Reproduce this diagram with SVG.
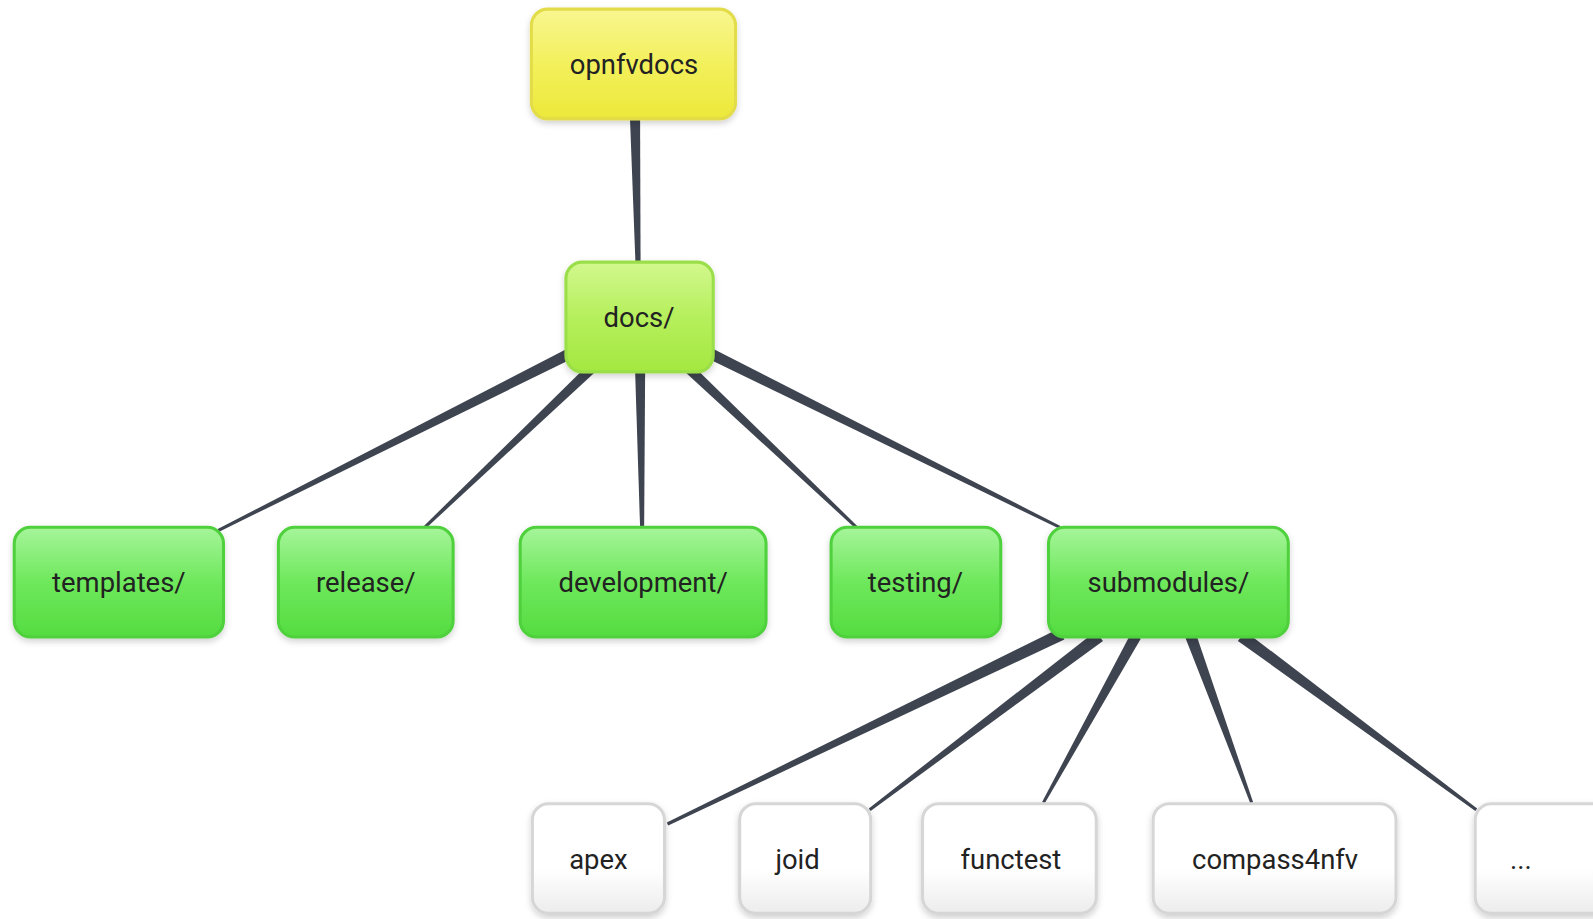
<svg xmlns="http://www.w3.org/2000/svg" width="1593" height="919" viewBox="0 0 1593 919">
<defs>
<linearGradient id="gY" x1="0" y1="0" x2="0" y2="1"><stop offset="0" stop-color="#f8f690"/><stop offset="0.5" stop-color="#f3f05c"/><stop offset="1" stop-color="#ece83a"/></linearGradient>
<linearGradient id="gD" x1="0" y1="0" x2="0" y2="1"><stop offset="0" stop-color="#d2f88e"/><stop offset="0.5" stop-color="#b6ef5c"/><stop offset="1" stop-color="#a4e840"/></linearGradient>
<linearGradient id="gG" x1="0" y1="0" x2="0" y2="1"><stop offset="0" stop-color="#a6f59a"/><stop offset="0.5" stop-color="#6ee85c"/><stop offset="1" stop-color="#55dc40"/></linearGradient>
<linearGradient id="gW" x1="0" y1="0" x2="0" y2="1"><stop offset="0" stop-color="#ffffff"/><stop offset="0.6" stop-color="#ffffff"/><stop offset="1" stop-color="#ececec"/></linearGradient>
<filter id="sh" x="-10%" y="-10%" width="120%" height="130%"><feDropShadow dx="0" dy="3" stdDeviation="3" flood-color="#000" flood-opacity="0.18"/></filter>
</defs>
<style>
.n{stroke-width:3;filter:url(#sh)}
.y{fill:url(#gY);stroke:#e2dc4a}
.d{fill:url(#gD);stroke:#9ade48}
.g{fill:url(#gG);stroke:#4fd03c}
.w{fill:url(#gW);stroke:#d6d6d6}
.t{font-family:Roboto,"Liberation Sans",sans-serif;font-size:27px;fill:#222;text-anchor:middle}
.e polygon{fill:#3e4450}
</style>
<g transform="scale(1.016)">
<g id="connectors" class="e">
<polygon points="620,115 630,115 630.5,260 625.5,260"/>
<polygon points="567.5,350.9 562.5,341.1 214.3,520.7 215.7,523.3"/>
<polygon points="588.5,363.6 581.5,356.4 417,517.9 419,520.1"/>
<polygon points="625,362 635,362 634,519 630,519"/>
<polygon points="678.4,356.4 844,517.9 842,520.1 671.6,363.6"/>
<polygon points="692.6,350.9 697.4,341.1 1043.7,517.7 1042.3,520.3"/>
<polygon points="1047.6,629.4 1042.4,618.6 656.3,809.6 657.7,812.4"/>
<polygon points="1085.6,630.8 1078.4,621.2 855.1,795.8 856.9,798.2"/>
<polygon points="1122.8,628.7 1113.2,623.3 1025.7,789.3 1028.3,790.7"/>
<polygon points="1166.8,627.9 1177.2,624.1 1233.4,789.5 1230.6,790.5"/>
<polygon points="1218.4,630.8 1225.6,621.2 1453.9,795.8 1452.1,798.2"/>
</g>
<g id="opnfvdocs"><rect class="n y" x="523" y="9" width="201" height="108" rx="16"/><text class="t" x="624" y="73">opnfvdocs</text></g>
<g id="docs"><rect class="n d" x="557" y="258" width="145" height="108" rx="16"/><text class="t" x="629" y="322">docs/</text></g>
<g id="templates"><rect class="n g" x="14" y="519" width="206" height="108" rx="16"/><text class="t" x="117" y="583">templates/</text></g>
<g id="release"><rect class="n g" x="274" y="519" width="172" height="108" rx="16"/><text class="t" x="360" y="583">release/</text></g>
<g id="development"><rect class="n g" x="512" y="519" width="242" height="108" rx="16"/><text class="t" x="633" y="583">development/</text></g>
<g id="testing"><rect class="n g" x="818" y="519" width="167" height="108" rx="16"/><text class="t" x="901" y="583">testing/</text></g>
<g id="submodules"><rect class="n g" x="1032" y="519" width="236" height="108" rx="16"/><text class="t" x="1150" y="583">submodules/</text></g>
<g id="apex"><rect class="n w" x="524" y="791" width="130" height="108" rx="16"/><text class="t" x="589" y="855">apex</text></g>
<g id="joid"><rect class="n w" x="728" y="791" width="129" height="108" rx="16"/><text class="t" x="785" y="855">joid</text></g>
<g id="functest"><rect class="n w" x="908" y="791" width="171" height="108" rx="16"/><text class="t" x="995" y="855">functest</text></g>
<g id="compass4nfv"><rect class="n w" x="1135" y="791" width="239" height="108" rx="16"/><text class="t" x="1255" y="855">compass4nfv</text></g>
<g id="more"><rect class="n w" x="1452" y="791" width="170" height="108" rx="16"/><text class="t" x="1497" y="855">...</text></g>
</g>
</svg>
